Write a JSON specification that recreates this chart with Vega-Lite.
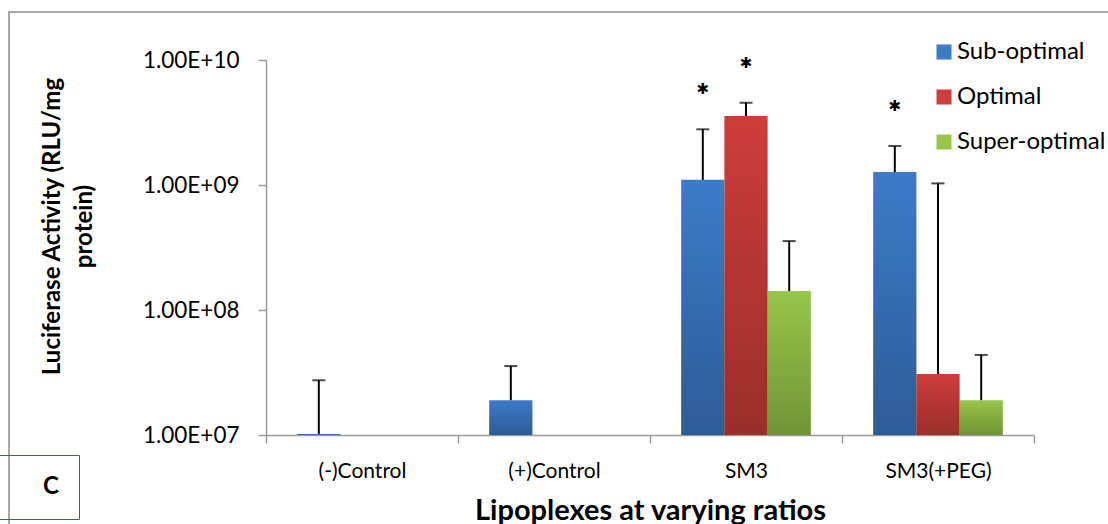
{
  "$schema": "https://vega.github.io/schema/vega-lite/v6.json",
  "autosize": "none",
  "padding": {"left": 9, "top": 12, "right": 0, "bottom": 0},
  "width": 1099,
  "height": 512,
  "background": "white",
  "config": {
    "font": "Lato",
    "view": {"stroke": "#a6a6a6", "strokeWidth": 2, "strokeDash": [1099, 1611, 600]}
  },
  "data": {
    "values": [
      {"group": "(-)Control", "series": "Sub-optimal", "value": 10200000, "upper": 27400000, "star": ""},
      {"group": "(+)Control", "series": "Sub-optimal", "value": 19000000, "upper": 35600000, "star": ""},
      {"group": "SM3", "series": "Sub-optimal", "value": 1100000000, "upper": 2790000000, "star": "✱"},
      {"group": "SM3", "series": "Optimal", "value": 3560000000, "upper": 4550000000, "star": "✱"},
      {"group": "SM3", "series": "Super-optimal", "value": 142000000, "upper": 356000000, "star": ""},
      {"group": "SM3(+PEG)", "series": "Sub-optimal", "value": 1270000000, "upper": 2050000000, "star": "✱"},
      {"group": "SM3(+PEG)", "series": "Optimal", "value": 30800000, "upper": 1030000000, "star": ""},
      {"group": "SM3(+PEG)", "series": "Super-optimal", "value": 19000000, "upper": 43700000, "star": ""}
    ]
  },
  "layer": [
    {
      "mark": {"type": "bar"},
      "encoding": {
        "x": {
          "field": "group", "type": "nominal",
          "scale": {"domain": ["(-)Control", "(+)Control", "SM3", "SM3(+PEG)"], "range": [257, 1025], "paddingInner": 0, "paddingOuter": 0},
          "axis": {
            "orient": "bottom", "offset": -89, "tickBand": "extent", "tickSize": 8,
            "domainColor": "#9a9a9a", "tickColor": "#9a9a9a", "domainWidth": 1.5, "tickWidth": 1.5,
            "labelAngle": 0, "labelFontSize": 21, "labelColor": "#000000", "labelPadding": 17,
            "title": "Lipoplexes at varying ratios", "titleFontSize": 29, "titleFontWeight": "bold",
            "titleColor": "#000000", "titlePadding": 15
          }
        },
        "xOffset": {
          "field": "series", "type": "nominal",
          "scale": {"domain": ["Sub-optimal", "Optimal", "Super-optimal"], "paddingInner": 0, "paddingOuter": 0.722}
        },
        "y": {
          "field": "value", "type": "quantitative",
          "scale": {"type": "log", "domain": [10000000, 10000000000], "range": [423, 48], "nice": false, "clamp": true},
          "axis": {
            "values": [10000000, 100000000, 1000000000, 10000000000],
            "labelExpr": "'1.00E+' + format(round(log(datum.value)/LN10), '02d')",
            "offset": -257, "grid": false, "tickSize": 8,
            "domainColor": "#9a9a9a", "tickColor": "#9a9a9a", "domainWidth": 1.5, "tickWidth": 1.5,
            "labelFontSize": 22.5, "labelColor": "#000000", "labelPadding": 19,
            "title": ["Luciferase Activity (RLU/mg", "protein)"],
            "titleFontSize": 24, "titleFontWeight": "bold", "titleColor": "#000000",
            "titleLineHeight": 32, "titleBaseline": "middle", "titleX": -214, "titleY": 214
          }
        },
        "y2": {"datum": 10000000},
        "color": {
          "field": "series", "type": "nominal",
          "scale": {"domain": ["Sub-optimal", "Optimal", "Super-optimal"], "range": ["#3c7bc8", "#cd3d3a", "#97c449"]},
          "legend": {
            "orient": "none", "legendX": 923, "legendY": 28, "title": null, "padding": 0,
            "symbolType": "square", "symbolSize": 225, "symbolStrokeWidth": 0, "symbolOpacity": 1,
            "labelFontSize": 24, "labelColor": "#000000", "labelOffset": 1, "rowPadding": 21
          }
        }
      }
    },
    {
      "mark": {
        "type": "bar",
        "color": {
          "gradient": "linear", "x1": 0, "y1": 0, "x2": 0, "y2": 1,
          "stops": [{"offset": 0, "color": "rgba(0,0,0,0)"}, {"offset": 1, "color": "rgba(0,0,0,0.25)"}]
        }
      },
      "encoding": {
        "x": {"field": "group", "type": "nominal"},
        "xOffset": {"field": "series", "type": "nominal"},
        "y": {"field": "value", "type": "quantitative"},
        "y2": {"datum": 10000000}
      }
    },
    {
      "mark": {"type": "rule", "color": "#000000", "strokeWidth": 2},
      "encoding": {
        "x": {"field": "group", "type": "nominal"},
        "xOffset": {"field": "series", "type": "nominal"},
        "y": {"field": "value", "type": "quantitative"},
        "y2": {"field": "upper"}
      }
    },
    {
      "mark": {"type": "tick", "color": "#000000", "thickness": 2, "size": 13},
      "encoding": {
        "x": {"field": "group", "type": "nominal"},
        "xOffset": {"field": "series", "type": "nominal"},
        "y": {"field": "upper", "type": "quantitative"}
      }
    },
    {
      "mark": {"type": "text", "font": "DejaVu Sans", "fontSize": 15, "baseline": "middle", "dy": -40, "color": "#000000"},
      "encoding": {
        "x": {"field": "group", "type": "nominal"},
        "xOffset": {"field": "series", "type": "nominal"},
        "y": {"field": "upper", "type": "quantitative"},
        "text": {"field": "star"}
      }
    },
    {
      "data": {"values": [{"panel": "C"}]},
      "mark": {"type": "point", "opacity": 0},
      "encoding": {
        "shape": {
          "field": "panel", "type": "nominal",
          "legend": {
            "orient": "none", "legendX": -10, "legendY": 443, "title": null,
            "symbolSize": 0, "symbolOpacity": 0, "labelOffset": 0,
            "labelFontSize": 24, "labelFontWeight": "bold", "labelColor": "#000000",
            "strokeColor": "#3b5f8f", "padding": 20
          }
        }
      }
    }
  ]
}
